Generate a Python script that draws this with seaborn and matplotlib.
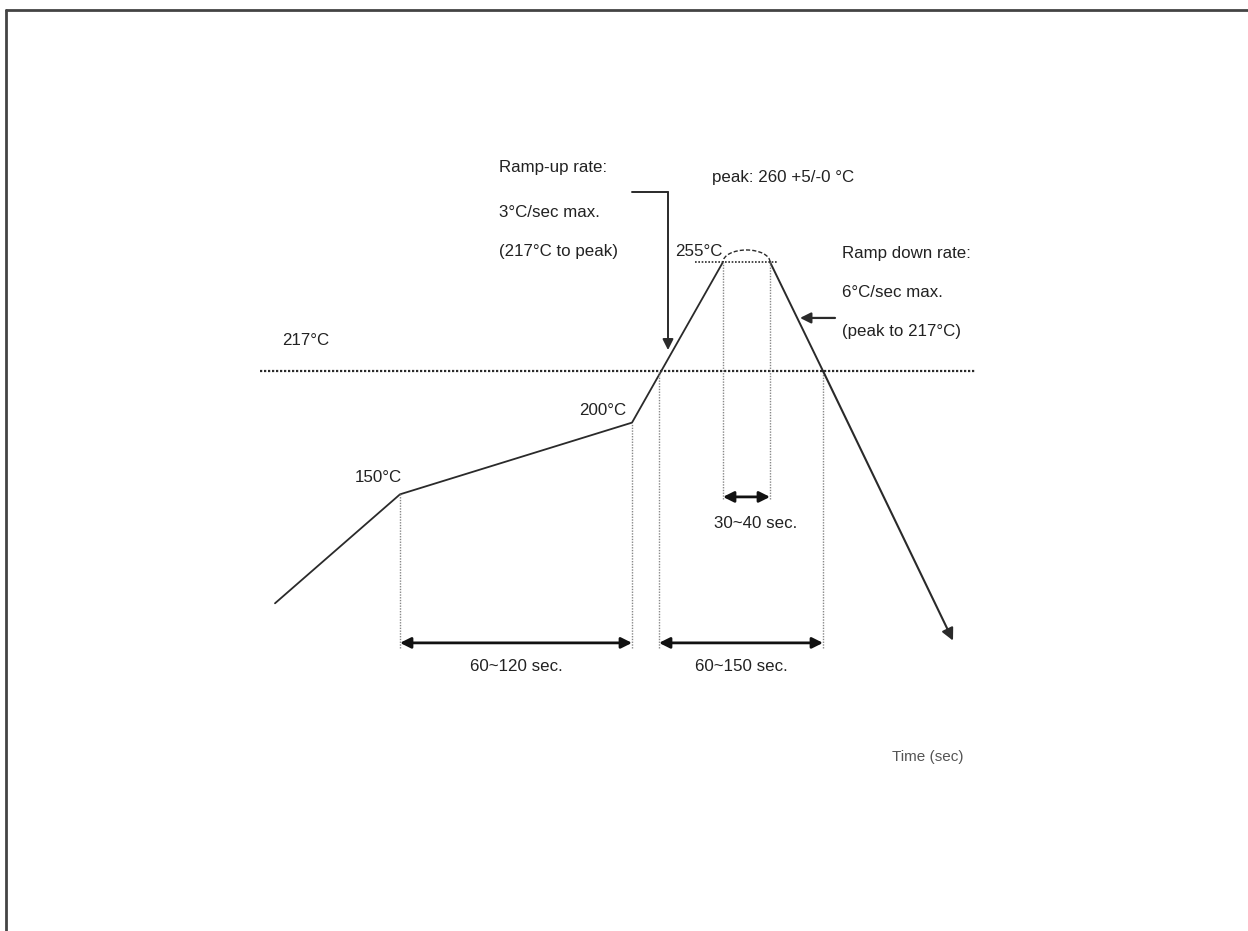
import matplotlib
matplotlib.use("Agg")
import matplotlib.pyplot as plt
import seaborn as sns
import pandas as pd
from matplotlib.patches import Arc
from matplotlib.lines import Line2D

# schematic reflow profile (time in s, temperature in degC as drawn)
rise_time = [0, 62.5, 178.5, 224]
rise_temp = [136, 174, 199, 255]
cool_time = [247.5, 274, 339]
cool_temp = [255, 217, 123]

liquidus = 217
peak_start, peak_end = 224, 247.5
peak_temp, peak_top = 255, 259.2

# spans marked with double arrows: (start, end, level, label)
span_start = [62.5, 192, 224]
span_end = [178.5, 274, 247.5]
span_level = [122.2, 122.2, 173.1]
span_label = ["60~120 sec.", "60~150 sec.", "30~40 sec."]
span_text_x = [120.5, 233, 240.5]

sns.set_theme(style="white")
plt.rcParams['font.family'] = ['Liberation Sans', 'DejaVu Sans']

fig = plt.figure(figsize=(12.48, 9.31), dpi=100)
ax = fig.add_axes([0, 0, 1, 1])
ax.set_xlim(-137.5, 486.5)
ax.set_ylim(21.74, 346.36)
ax.axis("off")

ink = "#2a2a2a"
txt = dict(color="#222222", fontsize=12.2)

rise = pd.DataFrame({"time": rise_time, "temp": rise_temp})
cool = pd.DataFrame({"time": cool_time, "temp": cool_temp})
sns.lineplot(data=rise, x="time", y="temp", sort=False, color=ink, lw=1.3, ax=ax)
sns.lineplot(data=cool.iloc[:-1], x="time", y="temp", sort=False, color=ink, lw=1.4, ax=ax)
ax.annotate("", xy=(cool_time[-1], cool_temp[-1]), xytext=(cool_time[1], cool_temp[1]),
            arrowprops=dict(arrowstyle="-|>", color=ink, lw=1.5, mutation_scale=18,
                            shrinkA=0, shrinkB=0))

# peak dome
ax.add_patch(Arc(((peak_start + peak_end) / 2, peak_temp), peak_end - peak_start,
                 2 * (peak_top - peak_temp), theta1=0, theta2=180,
                 color=ink, lw=1.0, ls=(0, (3, 1.5))))

# reference levels
ax.plot([-7.5, 350], [liquidus, liquidus], color=ink, lw=1.6, ls=(0, (1, 0.8)))
ax.plot([210, 251], [peak_temp, peak_temp], color=ink, lw=1.2, ls=(0, (1, 1)))

# vertical guides
guide_x = [62.5, 178.5, 192, 274, 224, 247.5]
guide_top = [174, 199, 217, 217, 255, 255]
guide_bot = [120.4, 120.4, 120.4, 120.4, 172.5, 172.5]
for gx, gt, gb in zip(guide_x, guide_top, guide_bot):
    ax.plot([gx, gx], [gb, gt], color="#888888", lw=1.0, ls=(0, (1, 1)))

for s, e, lv, lab, tx in zip(span_start, span_end, span_level, span_label, span_text_x):
    ax.annotate("", xy=(e, lv), xytext=(s, lv),
                arrowprops=dict(arrowstyle="<|-|>", color="#111111", lw=2.0,
                                mutation_scale=16, shrinkA=0, shrinkB=0))
    ax.text(tx, lv - 8.2 if lv < 150 else lv - 9.1, lab, ha="center", va="center", **txt)

# temperature labels
ax.text(15.5, 227.5, "217\u00b0C", ha="center", va="center", **txt)
ax.text(51.5, 179.7, "150\u00b0C", ha="center", va="center", **txt)
ax.text(164, 203.4, "200\u00b0C", ha="center", va="center", **txt)
ax.text(224, 258.5, "255\u00b0C", ha="right", va="center", **txt)
ax.text(254, 284.3, "peak: 260 +5/-0 \u00b0C", ha="center", va="center", **txt)

# ramp-up note and callout
for yy, s in zip([288.1, 272.1, 258.5], ["Ramp-up rate:", "3\u00b0C/sec max.", "(217\u00b0C to peak)"]):
    ax.text(112, yy, s, ha="left", va="center", **txt)
ax.plot([178.5, 196.5], [279.4, 279.4], color=ink, lw=1.4)
ax.annotate("", xy=(196.5, 224.3), xytext=(196.5, 279.4),
            arrowprops=dict(arrowstyle="-|>", color=ink, lw=1.4, mutation_scale=16,
                            shrinkA=0, shrinkB=0))

# ramp-down note and callout
for yy, s in zip([257.8, 244.5, 230.6], ["Ramp down rate:", "6\u00b0C/sec max.", "(peak to 217\u00b0C)"]):
    ax.text(283.5, yy, s, ha="left", va="center", **txt)
ax.annotate("", xy=(262.5, 235.5), xytext=(280, 235.5),
            arrowprops=dict(arrowstyle="-|>", color=ink, lw=1.6, mutation_scale=16,
                            shrinkA=0, shrinkB=0))

ax.text(326.5, 82.4, "Time (sec)", ha="center", va="center", color="#555555", fontsize=11)

# page frame (top and left edges)
fig.add_artist(Line2D([0.0048, 1], [0.989, 0.989], transform=fig.transFigure, color="#444444", lw=2))
fig.add_artist(Line2D([0.0048, 0.0048], [0, 0.989], transform=fig.transFigure, color="#444444", lw=2))

fig.savefig("out.png", dpi=100, facecolor="white")
